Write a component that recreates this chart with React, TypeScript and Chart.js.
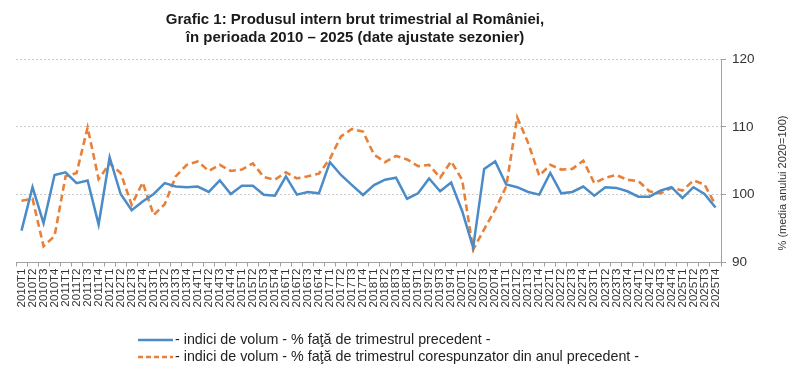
import React, { useEffect, useRef } from "react";
import { Chart, registerables } from "chart.js";

Chart.register(...registerables);

const years = [2010, 2011, 2012, 2013, 2014, 2015, 2016, 2017, 2018, 2019, 2020, 2021, 2022, 2023, 2024, 2025];
const quarters = ["T1", "T2", "T3", "T4"];
const categories: string[] = [];
years.forEach((y) => quarters.forEach((q) => categories.push(`${y}${q}`)));

const qoqIndex = [
  94.7, 101.1, 95.8, 102.9,
  103.3, 101.7, 102.1, 95.6,
  105.5, 100.1, 97.7, 99.0,
  100.1, 101.7, 101.2, 101.1,
  101.2, 100.4, 102.1, 100.1,
  101.3, 101.3, 100.0, 99.85,
  102.7, 100.0, 100.4, 100.2,
  104.8, 102.9, 101.4, 99.95,
  101.4, 102.2, 102.5, 99.4,
  100.2, 102.4, 100.5, 101.8,
  97.6, 92.2, 103.8, 104.9,
  101.5, 101.1, 100.4, 100.0,
  103.2, 100.2, 100.4, 101.2,
  99.85, 101.1, 101.0, 100.5,
  99.7, 99.7, 100.6, 101.1,
  99.5, 101.1, 100.1, 98.1,
];

const yoyIndex = [
  99.1, 99.4, 92.4, 93.9,
  102.7, 103.2, 109.9, 102.3,
  104.6, 103.2, 98.5, 101.8,
  97.0, 98.6, 102.7, 104.4,
  104.9, 103.5, 104.4, 103.5,
  103.7, 104.6, 102.6, 102.2,
  103.3, 102.4, 102.7, 103.1,
  105.3, 108.6, 109.7, 109.3,
  105.9, 104.8, 105.7, 105.2,
  104.2, 104.4, 102.5, 104.9,
  102.2, 91.9, 94.9, 97.8,
  101.2, 111.4, 107.6, 102.8,
  104.4, 103.7, 103.8, 105.0,
  101.7, 102.5, 102.9, 102.2,
  102.0, 100.5, 100.2, 101.0,
  100.6, 102.1, 101.5, 98.5,
];

const yTicks = [90, 100, 110, 120];

const titleLines = [
  "Grafic 1: Produsul intern brut trimestrial al României,",
  "în perioada 2010 – 2025 (date ajustate sezonier)",
];
const seriesNames = [
  "- indici de volum - % faţă de trimestrul precedent -",
  "- indici de volum - % faţă de trimestrul corespunzator din anul precedent -",
];
const yTitle = "% (media anului 2020=100)";

const BLUE = "#4a8bc8";
const ORANGE = "#e8803a";
const FONT = "'Liberation Sans', Arial, sans-serif";

const overlayPlugin = {
  id: "overlayText",
  afterDraw(chart: any) {
    const ctx = chart.ctx as CanvasRenderingContext2D;
    ctx.save();
    // Title
    ctx.fillStyle = "#1a1a1a";
    ctx.font = `bold 15px ${FONT}`;
    ctx.textAlign = "center";
    ctx.textBaseline = "middle";
    ctx.fillText(titleLines[0], 355, 20);
    ctx.fillText(titleLines[1], 355, 38);

    // Y axis title (rotated, reading bottom to top)
    ctx.save();
    ctx.translate(783, 183);
    ctx.rotate(-Math.PI / 2);
    ctx.font = `11px ${FONT}`;
    ctx.fillStyle = "#333";
    ctx.fillText(yTitle, 0, 0);
    ctx.restore();

    // Legend
    const lx0 = 138;
    const lx1 = 173;
    const rows = [340, 357];
    ctx.lineWidth = 2.5;
    ctx.strokeStyle = BLUE;
    ctx.setLineDash([]);
    ctx.beginPath();
    ctx.moveTo(lx0, rows[0]);
    ctx.lineTo(lx1, rows[0]);
    ctx.stroke();
    ctx.strokeStyle = ORANGE;
    ctx.setLineDash([5, 3]);
    ctx.beginPath();
    ctx.moveTo(lx0, rows[1]);
    ctx.lineTo(lx1, rows[1]);
    ctx.stroke();
    ctx.setLineDash([]);
    ctx.fillStyle = "#222";
    ctx.font = `14.3px ${FONT}`;
    ctx.textAlign = "left";
    ctx.fillText(seriesNames[0], 175, rows[0]);
    ctx.fillText(seriesNames[1], 175, rows[1]);
    ctx.restore();
  },
};

export default function App() {
  const canvasRef = useRef<HTMLCanvasElement | null>(null);

  useEffect(() => {
    if (!canvasRef.current) return;
    const chart = new Chart(canvasRef.current, {
      type: "line",
      data: {
        labels: categories,
        datasets: [
          {
            label: seriesNames[0],
            data: qoqIndex,
            borderColor: BLUE,
            backgroundColor: BLUE,
            borderWidth: 2.5,
            pointRadius: 0,
            tension: 0,
            fill: false,
          },
          {
            label: seriesNames[1],
            data: yoyIndex,
            borderColor: ORANGE,
            backgroundColor: ORANGE,
            borderWidth: 2.6,
            borderDash: [7, 4],
            pointRadius: 0,
            tension: 0,
            fill: false,
          },
        ],
      },
      options: {
        animation: false,
        responsive: true,
        maintainAspectRatio: false,
        layout: { padding: { left: 16, top: 59, right: 0, bottom: 0 } },
        plugins: {
          legend: { display: false },
          title: { display: false },
          tooltip: { enabled: false },
        },
        scales: {
          x: {
            type: "category",
            offset: true,
            grid: {
              display: true,
              drawOnChartArea: false,
              drawTicks: true,
              tickLength: 4,
              color: "#a0a0a0",
              offset: true,
            },
            border: { color: "#a0a0a0", width: 1 },
            ticks: {
              autoSkip: false,
              maxRotation: 90,
              minRotation: 90,
              padding: 2,
              color: "#333",
              font: { size: 11.5, family: FONT },
            },
            afterFit: (scale: any) => {
              scale.height = 110.5;
            },
          },
          y: {
            position: "right",
            min: 90,
            max: 120,
            afterBuildTicks: (scale: any) => {
              scale.ticks = yTicks.map((v) => ({ value: v }));
            },
            grid: {
              color: (ctx: any) => (ctx.tick && ctx.tick.value === 90 ? "rgba(0,0,0,0)" : "#cccccc"),
              tickColor: "#a0a0a0",
              tickLength: 5,
              drawTicks: true,
            },
            border: { color: "#a0a0a0", width: 1, dash: [2, 2] },
            ticks: {
              padding: 6,
              color: "#333",
              font: { size: 13.5, family: FONT },
            },
            afterFit: (scale: any) => {
              scale.width = 79;
            },
          },
        },
      },
      plugins: [overlayPlugin],
    });
    return () => chart.destroy();
  }, []);

  return (
    <div style={{ position: "fixed", left: 0, top: 0, width: 800, height: 373, background: "#fff" }}>
      <canvas ref={canvasRef} />
    </div>
  );
}
